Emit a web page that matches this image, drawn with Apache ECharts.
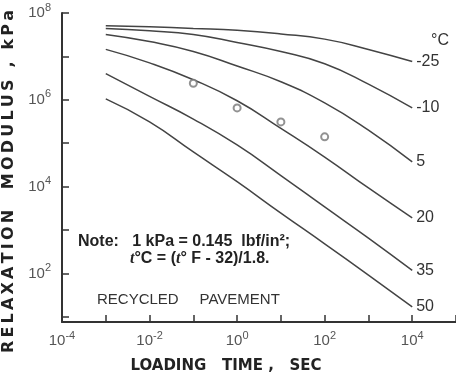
<!DOCTYPE html>
<html>
<head>
<meta charset="utf-8">
<script src="https://cdn.jsdelivr.net/npm/echarts@6/dist/echarts.min.js"></script>
<style>
html,body{margin:0;padding:0;background:#fff}
#chart{width:456px;height:374px}
</style>
</head>
<body>
<div id="chart"></div>
<script>
// loading time, sec
var times = [1e-3, 1e-2, 1e-1, 1, 10, 100, 1e3, 1e4];
// curve temperatures, deg C
var temps = ['-25', '-10', '5', '20', '35', '50'];
// relaxation modulus, kPa, one list per temperature
var modM25 = [5.1e7, 4.8e7, 4.4e7, 4.0e7, 3.3e7, 2.5e7, 1.45e7, 7.6e6];
var modM10 = [4.4e7, 3.9e7, 3.2e7, 2.1e7, 1.3e7, 6.8e6, 2.3e6, 6.5e5];
var mod5 = [3.2e7, 2.2e7, 1.3e7, 6.0e6, 2.6e6, 8.5e5, 2.0e5, 3.7e4];
var mod20 = [1.45e7, 7.1e6, 2.9e6, 9.5e5, 2.2e5, 4.8e4, 9.3e3, 1.9e3];
var mod35 = [4.0e6, 1.2e6, 3.6e5, 9.1e4, 1.8e4, 3.4e3, 650, 117];
var mod50 = [1.05e6, 3.1e5, 6.3e4, 1.3e4, 2.45e3, 480, 91, 17];
// measured points (circles)
var testTimes = [0.1, 1, 10, 100];
var testMod = [2.4e6, 6.5e5, 3.1e5, 1.4e5];

var curves = [modM25, modM10, mod5, mod20, mod35, mod50];

var chart = echarts.init(document.getElementById('chart'));

function pairs(xs, ys) {
	var out = [];
	for (var i = 0; i < xs.length; i++) {
		out.push([xs[i], ys[i]]);
	}
	return out;
}

// "10" with a raised exponent, every second decade only
function powLabel(v) {
	var lg = Math.log10(v);
	var e = Math.round(lg);
	if (Math.abs(lg - e) > 0.01 || e % 2 !== 0) return '';
	return '{b|10}{s|' + e + '}';
}

var labelRich = {
	b: {fontSize: 15, lineHeight: 22, color: '#555', fontFamily: 'Liberation Sans'},
	s: {fontSize: 11, lineHeight: 12, verticalAlign: 'top', color: '#555', fontFamily: 'Liberation Sans'}
};

var lineColor = '#444';
var series = [];
for (var i = 0; i < temps.length; i++) {
	series.push({
		name: temps[i],
		type: 'line',
		smooth: true,
		symbol: 'none',
		data: pairs(times, curves[i]),
		lineStyle: {color: lineColor, width: 1.5},
		endLabel: {
			show: true,
			formatter: '{a}',
			distance: 4,
			color: '#333',
			fontSize: 16,
			fontFamily: 'Liberation Sans'
		}
	});
}
series.push({
	name: 'test',
	type: 'scatter',
	symbol: 'emptyCircle',
	symbolSize: 7,
	z: 5,
	itemStyle: {color: '#777', borderColor: '#777', borderWidth: 1.3},
	data: pairs(testTimes, testMod)
});

var option = {
	animation: false,
	backgroundColor: '#fff',
	grid: {left: 62, right: 0, top: 13, bottom: 52, outerBoundsMode: 'none', containLabel: false},
	xAxis: {
		type: 'log',
		logBase: 10,
		min: 1e-4,
		max: 1e5,
		name: 'LOADING   TIME ,   SEC',
		nameLocation: 'middle',
		nameGap: 37,
		nameTextStyle: {
			fontFamily: 'DejaVu Sans', fontWeight: 'bold', fontSize: 15, color: '#222',
			padding: [0, 66, 0, 0]
		},
		axisLine: {lineStyle: {color: '#333', width: 2}},
		axisTick: {inside: true, length: 7, lineStyle: {color: '#333', width: 1.5}},
		axisLabel: {margin: 8, formatter: powLabel, rich: labelRich},
		splitLine: {show: false},
		minorTick: {show: false}
	},
	yAxis: {
		type: 'log',
		logBase: 10,
		min: 7.6,
		max: 1e8,
		name: 'RELAXATION  MODULUS , kPa'.split('').join('\u2009'),
		nameLocation: 'middle',
		nameRotate: 90,
		nameGap: 37,
		nameTextStyle: {
			fontFamily: 'DejaVu Sans', fontWeight: 'bold', fontSize: 16, color: '#222',
			padding: [0, 28, 0, 0]
		},
		axisLine: {lineStyle: {color: '#333', width: 2}},
		axisTick: {inside: true, length: 7, lineStyle: {color: '#333', width: 1.5}},
		axisLabel: {margin: 11, formatter: powLabel, rich: labelRich},
		splitLine: {show: false},
		minorTick: {show: false}
	},
	graphic: [
		{
			type: 'text', left: 431, top: 33,
			style: {text: '°C', fontSize: 16, fill: '#333', fontFamily: 'Liberation Sans'}
		},
		{
			type: 'text', left: 78, top: 234,
			style: {
				text: 'Note:   1 kPa = 0.145  lbf/in²;',
				fontSize: 16, fontWeight: 'bold', fill: '#222', fontFamily: 'Liberation Sans'
			}
		},
		{
			type: 'text', left: 130, top: 251,
			style: {
				text: '{i|t}°C = ({i|t}° F - 32)/1.8.',
				fontSize: 16, fontWeight: 'bold', fill: '#222', fontFamily: 'Liberation Sans',
				rich: {i: {fontSize: 16, fontWeight: 'bold', fontStyle: 'italic', fontFamily: 'Liberation Serif', fill: '#222'}}
			}
		},
		{
			type: 'text', left: 97, top: 292,
			style: {text: 'RECYCLED     PAVEMENT', fontSize: 15, fill: '#333', fontFamily: 'Liberation Sans'}
		}
	],
	series: series
};

chart.setOption(option);
</script>
</body>
</html>
